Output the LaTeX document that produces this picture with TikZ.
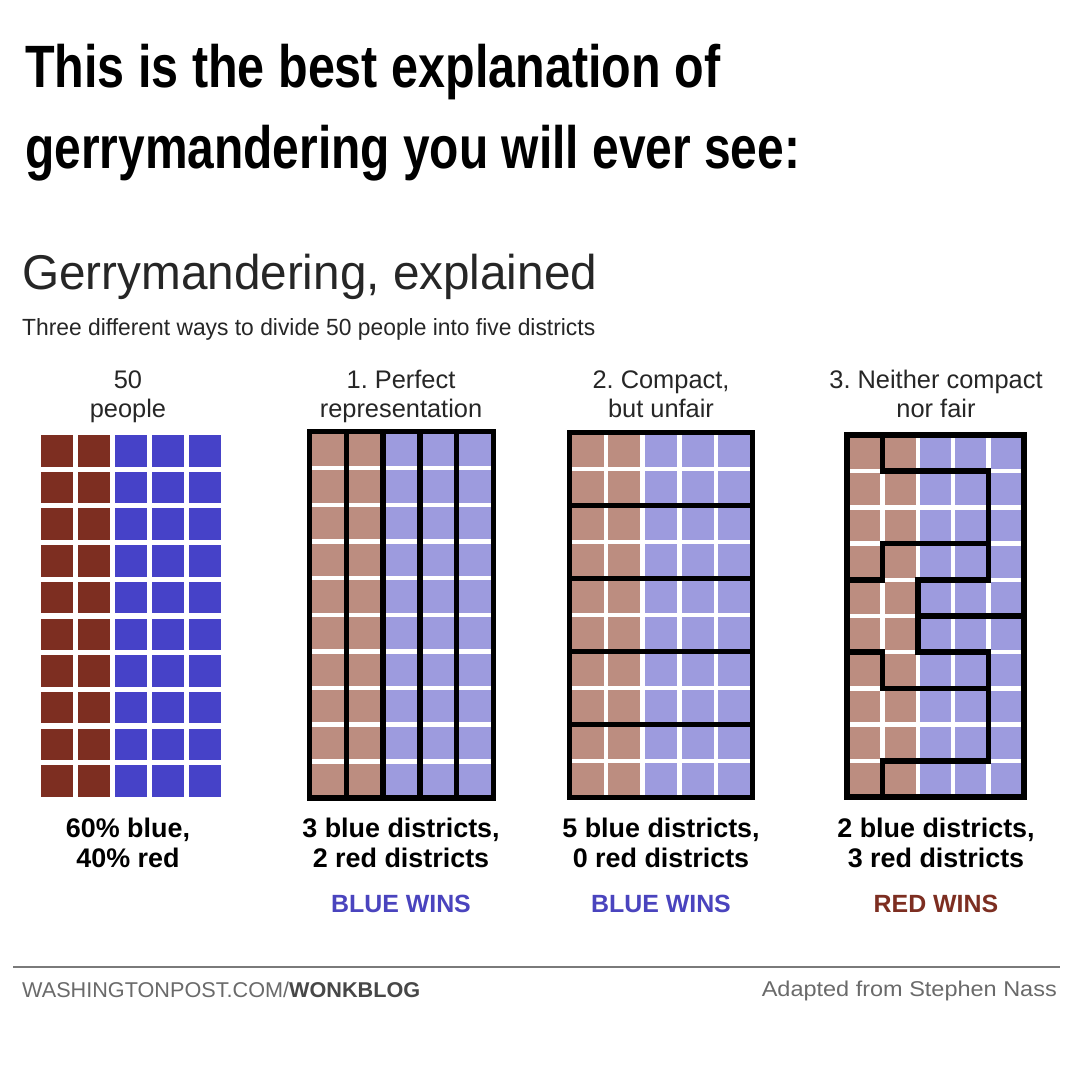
\documentclass[tikz,border=0pt]{standalone}
\usepackage{fontspec}
\setmainfont{Liberation Sans}
\usepackage{graphicx}
\frenchspacing
\definecolor{dred}{HTML}{7D2E21}
\definecolor{dblue}{HTML}{4642C8}
\definecolor{lred}{HTML}{BC8D80}
\definecolor{lblue}{HTML}{9D9BDE}
\definecolor{winblue}{HTML}{4A44BE}
\definecolor{txtdark}{HTML}{262626}
\definecolor{txtgray}{HTML}{6A6A6A}
\definecolor{rulegray}{HTML}{7A7A7A}
\tikzset{
  bigtitle/.style={anchor=base west, inner sep=0pt, font=\fontsize{60}{60}\selectfont\bfseries},
  hdr/.style={anchor=base, inner sep=0pt, text=txtdark, font=\fontsize{25.5}{25.5}\selectfont},
  res/.style={anchor=base, inner sep=0pt, font=\fontsize{27}{27}\selectfont\bfseries},
  win/.style={anchor=base, inner sep=0pt, font=\fontsize{25}{25}\selectfont\bfseries},
  whiteline/.style={white, line width=4.5bp},
  distline/.style={black, line width=5.5bp, line cap=rect, line join=miter},
}
\newcommand\panelcells{%
  \fill[lred] (0,0) rectangle (2,10);
  \fill[lblue] (2,0) rectangle (5,10);
  \foreach \i in {1,...,4} \draw[whiteline] (\i,0) -- (\i,10);
  \foreach \j in {1,...,9} \draw[whiteline] (0,\j) -- (5,\j);
}
\begin{document}
\begin{tikzpicture}[x=1bp,y=-1bp]
\fill[white] (0,0) rectangle (1080,1080);
\useasboundingbox (0,0) rectangle (1080,1080);

% headline
\node[bigtitle] (t1) at (25,87) {\resizebox{695bp}{\height}{This is the best explanation of}};
\node[bigtitle] (t2) at (25,168) {\resizebox{775bp}{\height}{gerrymandering you will ever see:}};

% chart title
\node[anchor=base west, inner sep=0pt, text=txtdark, font=\fontsize{49}{49}\selectfont] (g1) at (22,289)
  {\resizebox{575bp}{\height}{Gerrymandering, explained}};
\node[anchor=base west, inner sep=0pt, text=txtdark, font=\fontsize{23.5}{23.5}\selectfont] (g2) at (22,335)
  {\resizebox{573bp}{\height}{Three different ways to divide 50 people into five districts}};

% column headers
\node[hdr] (h0a) at (128,388) {50};
\node[hdr] (h0b) at (128,417) {people};
\node[hdr] (h1a) at (401,388) {1. Perfect};
\node[hdr] (h1b) at (401,417) {representation};
\node[hdr] (h2a) at (661,388) {2. Compact,};
\node[hdr] (h2b) at (661,417) {but unfair};
\node[hdr] (h3a) at (936,388) {3. Neither compact};
\node[hdr] (h3b) at (936,417) {nor fair};

% panel 0: 50 people
\foreach \i in {0,...,4} {
  \foreach \j in {0,...,9} {
    \ifnum\i<2 \def\cc{dred}\else\def\cc{dblue}\fi
    \fill[\cc] ({41+37.1*\i},{435+36.7*\j}) rectangle ++(31.5,31.5);
  }
}

% panel 1: perfect representation
\begin{scope}[shift={(309.5,431.5)}, x=36.8bp, y=-36.65bp]
  \panelcells
  \foreach \i in {1,...,4} \draw[distline] (\i,0) -- (\i,10);
  \draw[distline] (0,0) rectangle (5,10);
\end{scope}

% panel 2: compact but unfair
\begin{scope}[shift={(569.5,432.5)}, x=36.6bp, y=-36.5bp]
  \panelcells
  \foreach \j in {2,4,6,8} \draw[distline] (0,\j) -- (5,\j);
  \draw[distline] (0,0) rectangle (5,10);
\end{scope}

% panel 3: neither compact nor fair
\begin{scope}[shift={(847,435)}, x=35.4bp, y=-36.2bp]
  \panelcells
  \draw[distline] (1,0) -- (1,1) -- (4,1) -- (4,4);
  \draw[distline] (4,3) -- (1,3) -- (1,4) -- (0,4);
  \draw[distline] (4,4) -- (2,4) -- (2,6) -- (4,6);
  \draw[distline] (2,5) -- (5,5);
  \draw[distline] (0,6) -- (1,6) -- (1,7) -- (4,7);
  \draw[distline] (4,6) -- (4,9) -- (1,9) -- (1,10);
  \draw[distline] (0,0) rectangle (5,10);
\end{scope}

% results
\node[res] (r0a) at (128,837) {60\% blue,};
\node[res] (r0b) at (128,867) {40\% red};
\node[res] (r1a) at (401,837) {3 blue districts,};
\node[res] (r1b) at (401,867) {2 red districts};
\node[res] (r2a) at (661,837) {5 blue districts,};
\node[res] (r2b) at (661,867) {0 red districts};
\node[res] (r3a) at (936,837) {2 blue districts,};
\node[res] (r3b) at (936,867) {3 red districts};
\node[win, text=winblue] (w1) at (401,912) {BLUE WINS};
\node[win, text=winblue] (w2) at (661,912) {BLUE WINS};
\node[win, text=dred] (w3) at (936,912) {RED WINS};

% footer
\coordinate (fl) at (13,967);
\coordinate (fr) at (1060,967);
\draw[rulegray, line width=2bp] (fl) -- (fr);
\node[anchor=base west, inner sep=0pt, font=\fontsize{21.5}{21.5}\selectfont] (f1) at (22,997)
  {\resizebox{398bp}{\height}{\textcolor{txtgray}{WASHINGTONPOST.COM/}\textcolor{txtdark!85}{\bfseries WONKBLOG}}};
\node[anchor=base east, inner sep=0pt, text=txtgray, font=\fontsize{21.5}{21.5}\selectfont] (f2) at (1057,996)
  {\resizebox{295bp}{\height}{Adapted from Stephen Nass}};
\end{tikzpicture}
\end{document}
